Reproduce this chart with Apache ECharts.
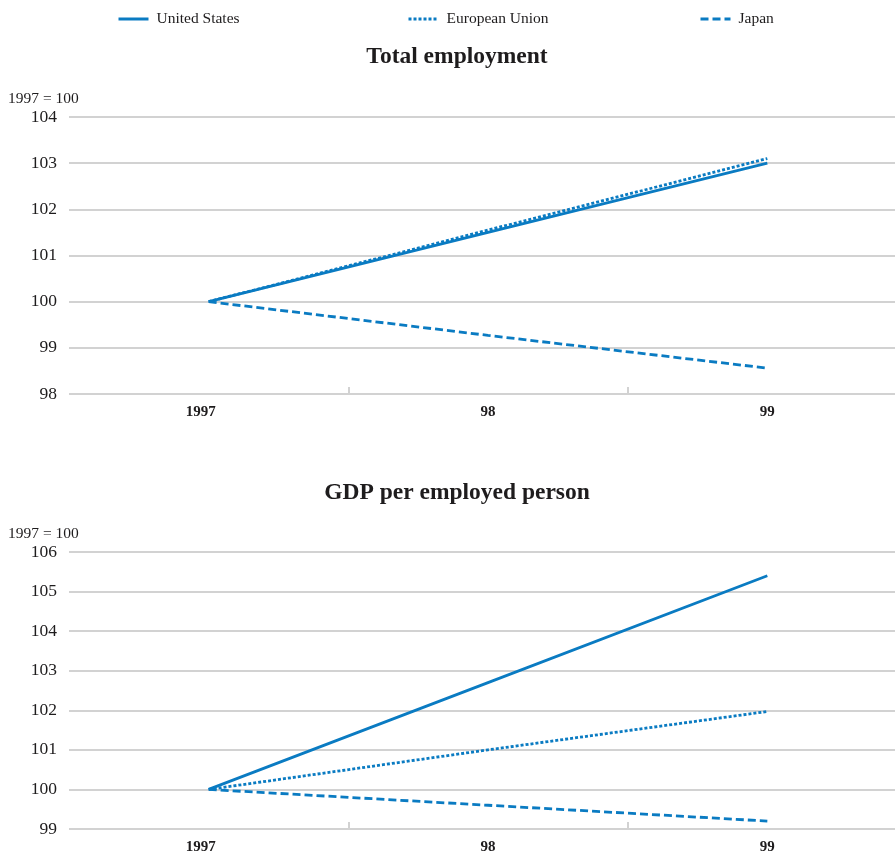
<!DOCTYPE html>
<html><head><meta charset="utf-8">
<script src="https://cdn.jsdelivr.net/npm/echarts@6/dist/echarts.min.js"></script>
<style>html,body{margin:0;padding:0;background:#fff;overflow:hidden}#c{width:930px;height:855px}</style>
</head><body><div id="c"></div>
<script>
const categories = ['1997', '98', '99'];
const empUS = [100, 101.5, 103.0];
const empEU = [100, 101.55, 103.1];
const empJP = [100, 99.27, 98.56];
const gdpUS = [100, 102.7, 105.4];
const gdpEU = [100, 101.0, 101.97];
const gdpJP = [100, 99.6, 99.2];
const seriesNames = ['United States', 'European Union', 'Japan'];

const FONT = '"Liberation Serif", "DejaVu Serif", serif';
const BLUE = '#0a7bc2';
const GRIDC = '#d2d2d2';
const TXT = '#1e1c1d';
const lineTypes = ['solid', [3, 2], [8, 4]];

const chart = echarts.init(document.getElementById('c'));

function xAxis(gi) {
  return {
    type: 'category', gridIndex: gi, data: categories, boundaryGap: true,
    axisLine: {show: false},
    axisTick: {show: true, inside: true, length: 7, interval: function (i) { return i > 0; }, lineStyle: {color: GRIDC, width: 2}},
    axisLabel: {
      fontFamily: FONT, fontWeight: 'bold', fontSize: 15, color: TXT, margin: 11,
      formatter: function (v, i) { return i === 0 ? '{a|' + v + '}' : v; },
      rich: {a: {fontFamily: FONT, fontWeight: 'bold', fontSize: 15, color: TXT, padding: [0, 16, 0, 0]}}
    }
  };
}
function yAxis(gi, min, max) {
  return {
    type: 'value', gridIndex: gi, min: min, max: max, interval: 1,
    axisLine: {show: false}, axisTick: {show: false},
    splitLine: {lineStyle: {color: GRIDC, width: 2}},
    axisLabel: {fontFamily: FONT, fontSize: 17.5, color: TXT, margin: 12}
  };
}
function mk(name, data, i, gi) {
  return {
    name: name, type: 'line', xAxisIndex: gi, yAxisIndex: gi, data: data,
    symbol: 'none', silent: true, animation: false,
    lineStyle: {color: BLUE, width: 2.8, type: lineTypes[i]},
    itemStyle: {color: BLUE}
  };
}
const legendPos = [117, 407, 699];
chart.setOption({
  animation: false,
  title: [
    {text: 'Total employment', left: 457, textAlign: 'center', top: 45, padding: 0, textStyle: {fontFamily: FONT, fontSize: 23.5, fontWeight: 'bold', color: TXT}},
    {text: 'GDP per employed person', left: 457, textAlign: 'center', top: 481, padding: 0, textStyle: {fontFamily: FONT, fontSize: 23.5, fontWeight: 'bold', color: TXT}},
    {text: '1997 = 100', left: 8, top: 91, padding: 0, textStyle: {fontFamily: FONT, fontSize: 15.5, fontWeight: 'normal', color: TXT}},
    {text: '1997 = 100', left: 8, top: 526, padding: 0, textStyle: {fontFamily: FONT, fontSize: 15.5, fontWeight: 'normal', color: TXT}}
  ],
  legend: seriesNames.map((n, i) => ({
    data: [n], left: legendPos[i], top: 11, padding: 0, itemWidth: 30, itemHeight: 14, itemGap: 8,
    itemStyle: {opacity: 0},
    lineStyle: {width: 3, color: BLUE},
    textStyle: {fontFamily: FONT, fontSize: 15.5, color: TXT, padding: [0, 0, 0, 3]}
  })),
  grid: [
    {left: 69, top: 117, width: 838, height: 277},
    {left: 69, top: 552, width: 838, height: 277}
  ],
  xAxis: [xAxis(0), xAxis(1)],
  yAxis: [yAxis(0, 98, 104), yAxis(1, 99, 106)],
  series: [
    mk(seriesNames[0], empUS, 0, 0), mk(seriesNames[1], empEU, 1, 0), mk(seriesNames[2], empJP, 2, 0),
    mk(seriesNames[0], gdpUS, 0, 1), mk(seriesNames[1], gdpEU, 1, 1), mk(seriesNames[2], gdpJP, 2, 1)
  ]
});
</script></body></html>
